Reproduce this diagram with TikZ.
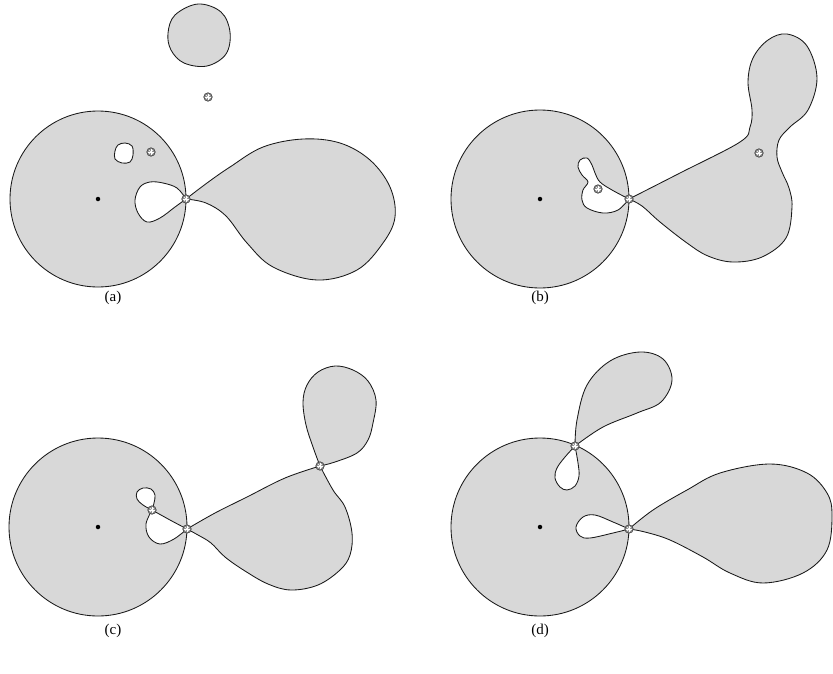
\documentclass[tikz,border=0pt]{standalone}
\usepackage{fontspec}
\setmainfont{Liberation Serif}
\usetikzlibrary{calc}
\definecolor{regiongray}{RGB}{216,216,216}
\definecolor{markgray}{RGB}{140,140,140}
\definecolor{edgeblack}{RGB}{25,25,25}

\tikzset{
    region/.style={draw=edgeblack, fill=regiongray},
    hole/.style={draw=edgeblack, fill=white},
    crit/.style={circle, draw=black!75, fill=markgray, line width=0.6pt,
        inner sep=0pt, minimum size=8.5pt,
        path picture={
            \foreach \a in {0,45,90,135}
                \draw[white, line width=0.5pt]
                    ([shift={(\a:2.8pt)}]path picture bounding box.center)
                    -- ([shift={(\a+180:2.8pt)}]path picture bounding box.center);
        }},
    centre/.style={circle, fill=black, inner sep=0pt, minimum size=4.5pt},
    panel/.style={font=\fontsize{15}{17}\selectfont},
}

\begin{document}
\begin{tikzpicture}[x=1pt, y=-1pt, line width=0.85pt]
    \useasboundingbox (0,0) rectangle (833,673);

    % Panel (a)
    \coordinate (ca) at (98,199);
    \coordinate (pa) at (186,199);
    \filldraw[region] (ca) circle (88pt);
    \filldraw[region] plot[smooth, tension=0.6] coordinates {(pa) (207,183)
        (230,167) (263,147) (303,139) (340,143) (370,160) (390,187) (395,217)
        (383,243) (357,270) (317,280) (273,267) (247,243) (226,216) (206,203)
        (pa)} -- cycle;
    \filldraw[hole] plot[smooth, tension=0.6] coordinates {(pa) (177,188)
        (163,183) (150,182) (140,187) (135,200) (138,213) (147,222) (160,218)
        (175,207) (pa)} -- cycle;
    \filldraw[hole] plot[smooth cycle, tension=0.6] coordinates {(115,151)
        (118,145) (125,143) (132,146) (133,155) (130,162) (122,163) (115,159)};
    \filldraw[region] plot[smooth cycle, tension=0.6] coordinates {(168,33)
        (175,15) (198,4) (221,12) (230,32) (226,54) (207,66) (184,63) (171,50)};
    \node[centre] (oa) at (ca) {};
    \node[crit] (ma1) at (pa) {};
    \node[crit] (ma2) at (151,152) {};
    \node[crit] (ma3) at (208,97) {};
    \node[panel] (la) at (113,298) {(a)};

    % Panel (b)
    \coordinate (cb) at (540,199);
    \coordinate (pb) at (629,199);
    \filldraw[region] (cb) circle (89pt);
    \filldraw[region] plot[smooth, tension=0.6] coordinates {(pb) (680,173)
        (740,142) (750,127) (752,110) (748,82) (753,58) (768,40) (787,34)
        (807,46) (817,78) (808,110) (790,127) (779,140) (777,157) (782,172)
        (789,188) (792,207) (786,238) (762,257) (733,262) (708,256) (687,243)
        (660,222) (642,206) (pb)} -- cycle;
    \filldraw[hole] plot[smooth, tension=0.6] coordinates {(pb) (612,190)
        (600,182) (595,173) (592,165) (587,158) (580,160) (578,167) (582,175)
        (588,182) (583,190) (582,200) (587,208) (603,213) (618,210) (pb)} -- cycle;
    \node[centre] (ob) at (cb) {};
    \node[crit] (mb1) at (pb) {};
    \node[crit] (mb2) at (598,189) {};
    \node[crit] (mb3) at (759,153) {};
    \node[panel] (lb) at (540,298) {(b)};

    % Panel (c)
    \coordinate (cc) at (98,527);
    \coordinate (pc) at (187,529);
    \coordinate (qc) at (152,510);
    \coordinate (rc) at (320,466);
    \filldraw[region] (cc) circle (89pt);
    \filldraw[region] plot[smooth, tension=0.6] coordinates {(pc) (215,513)
        (247,497) (285,478) (rc)}
        -- plot[smooth, tension=0.6] coordinates {(rc) (333,490) (345,507)
        (352,533) (350,555) (340,570) (318,585) (291,590) (268,584) (245,571)
        (225,557) (211,543) (198,535) (pc)} -- cycle;
    \filldraw[region] plot[smooth, tension=0.6] coordinates {(rc) (313,447)
        (306,425) (303,402) (307,385) (318,372) (335,366) (353,370) (368,381)
        (376,400) (373,423) (368,440) (357,453) (335,462) (rc)} -- cycle;
    \filldraw[hole] plot[smooth, tension=0.6] coordinates {(qc) (143,505)
        (137,499) (137,492) (143,488) (151,489) (155,495) (154,503) (qc)} -- cycle;
    \filldraw[hole] plot[smooth, tension=0.6] coordinates {(qc) (170,520) (pc)}
        -- plot[smooth, tension=0.6] coordinates {(pc) (174,539) (160,544)
        (149,537) (146,524) (qc)} -- cycle;
    \node[centre] (oc) at (cc) {};
    \node[crit] (mc1) at (pc) {};
    \node[crit] (mc2) at (qc) {};
    \node[crit] (mc3) at (rc) {};
    \node[panel] (lc) at (113,631) {(c)};

    % Panel (d)
    \coordinate (cd) at (540,527);
    \coordinate (pd) at (629,529);
    \coordinate (qd) at (575,446);
    \filldraw[region] (cd) circle (89pt);
    \filldraw[region] plot[smooth, tension=0.6] coordinates {(qd) (577,420)
        (587,385) (610,361) (640,352) (663,359) (672,380) (661,402) (637,413)
        (603,427) (qd)} -- cycle;
    \filldraw[region] plot[smooth, tension=0.6] coordinates {(pd) (653,510)
        (687,490) (720,473) (770,464) (807,473) (827,493) (832,515) (827,550)
        (803,573) (763,583) (730,573) (703,557) (670,540) (645,532) (pd)} -- cycle;
    \filldraw[hole] plot[smooth, tension=0.6] coordinates {(qd) (565,457)
        (557,468) (555,478) (560,487) (567,490) (575,486) (579,476) (578,463)
        (qd)} -- cycle;
    \filldraw[hole] plot[smooth, tension=0.6] coordinates {(pd) (613,522)
        (595,515) (583,517) (576,527) (580,536) (590,538) (613,533) (pd)} -- cycle;
    \node[centre] (od) at (cd) {};
    \node[crit] (md1) at (pd) {};
    \node[crit] (md2) at (qd) {};
    \node[panel] (ld) at (540,631) {(d)};
\end{tikzpicture}
\end{document}
